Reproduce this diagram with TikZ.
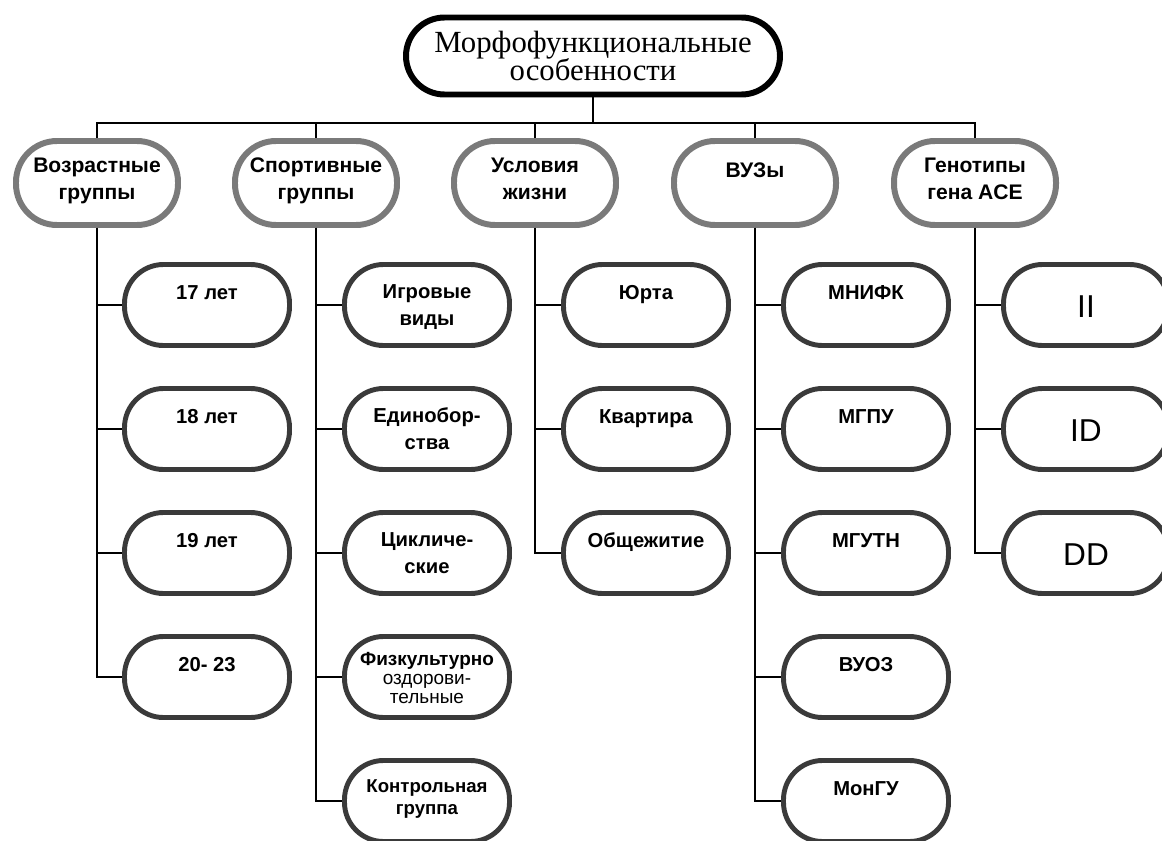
\documentclass[tikz,border=0pt]{standalone}
\usepackage{fontspec}
\setmainfont{Liberation Serif}
\setsansfont{Liberation Sans}
\usetikzlibrary{positioning}
\definecolor{catgray}{HTML}{7A7A7A}
\definecolor{leafgray}{HTML}{3A3A3A}
\newcommand\tightlines{\lineskiplimit-8pt\relax}
\tikzset{
  rootbox/.style={draw=black, line width=3.4pt, rounded corners=0.77cm, minimum width=7.48cm, minimum height=1.54cm, align=center, font=\fontsize{17.5}{16}\selectfont\tightlines},
  catbox/.style={draw=catgray, line width=3.4pt, rounded corners=0.82cm, minimum width=3.24cm, minimum height=1.68cm, align=center, text height=0.86cm, text depth=0.2cm, font=\sffamily\bfseries\fontsize{12}{15.3}\selectfont\tightlines},
  leafbox/.style={draw=leafgray, line width=2.8pt, rounded corners=0.78cm, minimum width=3.3cm, minimum height=1.62cm, align=center, text height=0.82cm, text depth=0.02cm, font=\sffamily\bfseries\fontsize{11.5}{14.8}\selectfont\tightlines},
  oneline/.style={text height=0.3cm, text depth=0.54cm},
  linkedge/.style={draw, line width=1.1pt}
}

\begin{document}
\begin{tikzpicture}
  \tikzset{smallleaf/.style={leafbox, text height=1.06cm, text depth=0cm, font=\sffamily\bfseries\fontsize{10.8}{10.8}\selectfont\tightlines},
           pairleaf/.style={leafbox, text height=0.74cm, text depth=0.2cm, font=\sffamily\bfseries\fontsize{10.6}{12.5}\selectfont\tightlines},
           upleaf/.style={leafbox, oneline},
           geneleaf/.style={leafbox, text height=0.48cm, text depth=0cm, font=\sffamily\fontsize{18}{20}\selectfont}}
  \useasboundingbox (0,0) rectangle (23.24,-16.8);

  \node[rootbox] (root) at (11.86,-1.12) {Морфофункциональные\\особенности};

  \node[catbox] (age) at (1.94,-3.66) {Возрастные\\группы};
  \node[catbox] (sport) at (6.32,-3.66) {Спортивные\\группы};
  \node[catbox] (life) at (10.70,-3.66) {Условия\\жизни};
  \node[catbox,oneline] (vuz) at (15.10,-3.66) {ВУЗы};
  \node[catbox] (gen) at (19.50,-3.66) {Генотипы\\гена ACE};
  \foreach \k in {age,sport,life,vuz,gen} {\draw[linkedge] (root.south) -- ++(0,-0.51) -| (\k.north);}

  \begin{scope}[xshift=4.14cm]
    \foreach \t [count=\i] in {17 лет,18 лет,19 лет,20- 23} {
      \node[upleaf] (age\i) at (0,{-3.62-2.48*\i}) {\t};
      \draw[linkedge] (age.south) |- (age\i.west);
    }
  \end{scope}

  \begin{scope}[xshift=8.54cm]
    \foreach \t/\s [count=\i] in {{Игровые\\виды}/leafbox,{Единобор-\\ства}/leafbox,{Цикличе-\\ские}/leafbox,
        {Физкультурно\\{\mdseries оздорови-}\\{\mdseries тельные}}/smallleaf,{Контрольная\\группа}/pairleaf} {
      \node[\s] (sport\i) at (0,{-3.62-2.48*\i}) {\t};
      \draw[linkedge] (sport.south) |- (sport\i.west);
    }
  \end{scope}

  \begin{scope}[xshift=12.92cm]
    \foreach \t [count=\i] in {Юрта,Квартира,Общежитие} {
      \node[upleaf] (life\i) at (0,{-3.62-2.48*\i}) {\t};
      \draw[linkedge] (life.south) |- (life\i.west);
    }
  \end{scope}

  \begin{scope}[xshift=17.32cm]
    \foreach \t [count=\i] in {МНИФК,МГПУ,МГУТН,ВУОЗ,МонГУ} {
      \node[upleaf] (vuz\i) at (0,{-3.62-2.48*\i}) {\t};
      \draw[linkedge] (vuz.south) |- (vuz\i.west);
    }
  \end{scope}

  \begin{scope}[xshift=21.72cm]
    \foreach \t [count=\i] in {II,ID,DD} {
      \node[geneleaf] (gen\i) at (0,{-3.62-2.48*\i}) {\t};
      \draw[linkedge] (gen.south) |- (gen\i.west);
    }
  \end{scope}
\end{tikzpicture}
\end{document}
